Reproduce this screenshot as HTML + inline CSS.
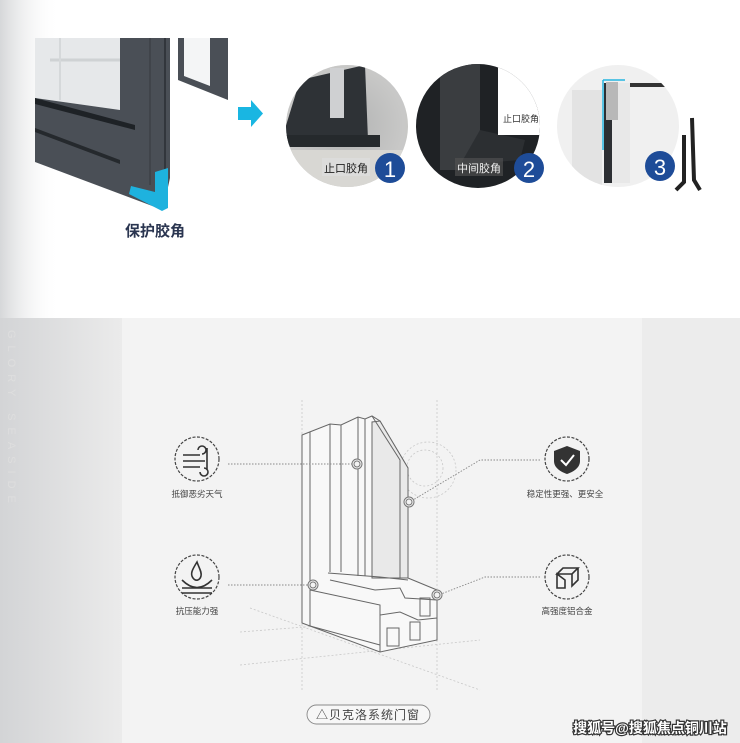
<!DOCTYPE html>
<html><head><meta charset="utf-8"><style>
html,body{margin:0;padding:0;background:#fff}
#w{position:relative;width:740px;height:743px;overflow:hidden;font-family:"Liberation Sans","Noto Sans CJK SC",sans-serif}
</style></head><body><div id="w">
<svg width="740" height="743" viewBox="0 0 740 743" xmlns="http://www.w3.org/2000/svg" style="position:absolute;left:0;top:0">
<defs>
<linearGradient id="lg" x1="0" x2="1" y1="0" y2="0"><stop offset="0" stop-color="#d6d7d9"/><stop offset="1" stop-color="#fff" stop-opacity="0"/></linearGradient>
<linearGradient id="lg2" x1="0" x2="1"><stop offset="0" stop-color="#d3d4d6"/><stop offset="1" stop-color="#ebebeb"/></linearGradient>
<radialGradient id="p1" cx="0.5" cy="0.5" r="0.5"><stop offset="0" stop-color="#9a9c9e"/><stop offset="1" stop-color="#c9c9c9"/></radialGradient>
<clipPath id="c1"><circle cx="347" cy="126" r="61"/></clipPath>
<clipPath id="c2"><circle cx="478" cy="126" r="62"/></clipPath>
<clipPath id="c3"><circle cx="618" cy="126" r="61"/></clipPath>
</defs>
<rect x="0" y="0" width="740" height="318" fill="#fff"/>
<rect x="0" y="0" width="60" height="318" fill="url(#lg)"/>
<!-- bottom section -->
<rect x="0" y="318" width="740" height="425" fill="#ececec"/>
<rect x="0" y="318" width="122" height="425" fill="url(#lg2)"/>
<rect x="122" y="318" width="520" height="425" fill="#f3f3f3"/>
<text x="8" y="330" fill="#dedede" font-size="11" letter-spacing="7" transform="rotate(90 8 330)">GLORY SEASIDE</text>

<!-- window top-left -->
<polygon points="35,38 120,38 120,110 35,98" fill="#e6e8ea"/>
<line x1="50" y1="60" x2="120" y2="60" stroke="#cfd2d4" stroke-width="3"/>
<line x1="60" y1="38" x2="60" y2="100" stroke="#d5d8da" stroke-width="2"/>
<polygon points="35,98 120,110 120,38 170,38 170,178 163,210 35,162" fill="#4a4f56"/>
<polygon points="35,98 135,125 135,130 35,104" fill="#1e2226"/>
<polygon points="35,128 120,160 120,164 35,132" fill="#25292d"/>
<line x1="150" y1="38" x2="150" y2="185" stroke="#3c4046" stroke-width="1.5"/>
<line x1="165" y1="38" x2="165" y2="190" stroke="#2a2e33" stroke-width="1.5"/>
<polygon points="178,38 228,38 228,100 178,80" fill="#4a4f56"/>
<polygon points="184,38 210,38 210,86 184,76" fill="#f4f5f6"/>
<polygon points="155,172 168,168 168,208 162,211 129,194 131,186 155,192" fill="#1eb2de"/>
<!-- arrow -->
<rect x="238" y="107" width="14" height="13" fill="#19b6e2"/>
<polygon points="251,100 263,113.5 251,127" fill="#19b6e2"/>
<text x="155" y="236" text-anchor="middle" font-size="15" fill="#2a3550" font-weight="bold">保护胶角</text>

<!-- photo circles -->
<g clip-path="url(#c1)">
<rect x="280" y="60" width="140" height="130" fill="#c8c8c6"/>
<rect x="285" y="65" width="120" height="120" fill="url(#p1)" opacity="0.5"/>
<polygon points="300,80 365,65 368,140 280,145" fill="#2e3236"/>
<rect x="330" y="68" width="14" height="50" fill="#cfd0d2"/>
<rect x="280" y="135" width="100" height="12" fill="#25292c"/>
<rect x="280" y="150" width="130" height="40" fill="#d8d7d3"/>
</g>
<g clip-path="url(#c2)">
<rect x="410" y="60" width="140" height="130" fill="#1f2225"/>
<rect x="440" y="60" width="40" height="110" fill="#3a3d40"/>
<polygon points="480,130 525,140 520,160 460,165" fill="#2c2f32"/>
<rect x="498" y="60" width="60" height="75" fill="#fff"/>
</g>
<text x="503" y="122" font-size="9" fill="#333">止口胶角</text>
<g clip-path="url(#c3)">
<rect x="555" y="60" width="130" height="130" fill="#f0f0f0"/>
<rect x="572" y="90" width="30" height="100" fill="#e3e3e3"/>
<rect x="604" y="83" width="8" height="100" fill="#2c2f33"/>
<rect x="612" y="83" width="18" height="100" fill="#e8e8e8"/>
<rect x="630" y="83" width="40" height="4" fill="#333"/>
<line x1="603" y1="80" x2="603" y2="150" stroke="#25b5e0" stroke-width="1.5"/>
<line x1="603" y1="80" x2="625" y2="80" stroke="#25b5e0" stroke-width="1.5"/>
<rect x="606" y="82" width="12" height="38" fill="#b8b8b8"/>
</g>
<path d="M692,118 L694,180 L700,190" stroke="#222" stroke-width="4" fill="none"/>
<path d="M684,135 L684,182 L676,190" stroke="#222" stroke-width="4" fill="none"/>
<rect x="322" y="158" width="48" height="18" fill="#ddd" opacity="0.8"/>
<text x="346" y="172" text-anchor="middle" font-size="11" fill="#222">止口胶角</text>
<rect x="455" y="158" width="48" height="18" fill="#555" opacity="0.6"/>
<text x="479" y="172" text-anchor="middle" font-size="11" fill="#eee">中间胶角</text>
<circle cx="390" cy="168" r="15" fill="#1e4c98"/><text x="390" y="177" text-anchor="middle" font-size="22" fill="#fff">1</text>
<circle cx="529" cy="168" r="15" fill="#1e4c98"/><text x="529" y="177" text-anchor="middle" font-size="22" fill="#fff">2</text>
<circle cx="660" cy="166" r="15" fill="#1e4c98"/><text x="660" y="175" text-anchor="middle" font-size="22" fill="#fff">3</text>

<!-- dashed guide lines -->
<g stroke="#c8c8c8" stroke-width="0.8" stroke-dasharray="2,2" fill="none">
<line x1="302" y1="400" x2="302" y2="690"/>
<line x1="437" y1="400" x2="437" y2="690"/>
<line x1="250" y1="608" x2="480" y2="690"/>
<line x1="240" y1="665" x2="480" y2="640"/>
<line x1="240" y1="632" x2="330" y2="625"/>
<circle cx="428" cy="470" r="28"/>
<circle cx="425" cy="468" r="18"/>
</g>
<!-- window profile -->
<g stroke="#666" stroke-width="1" fill="none">
<polygon points="302,435 330,424 341,425 358,417 365,419 372,416 380,421 408,468 408,578 437,590 437,640 380,652 302,623" fill="#f8f8f8"/>
<polygon points="380,421 408,468 408,578 372,578 372,422" fill="#e9e9e9"/>
<line x1="310" y1="432" x2="310" y2="626"/>
<line x1="330" y1="424" x2="330" y2="572"/>
<line x1="341" y1="425" x2="341" y2="572"/>
<line x1="358" y1="417" x2="358" y2="576"/>
<line x1="365" y1="419" x2="365" y2="576"/>
<line x1="372" y1="422" x2="372" y2="577"/>
<polyline points="372,416 400,460 400,578"/>
<polyline points="328,573 380,577 408,580"/>
<polyline points="310,590 380,605 380,652"/>
<polyline points="330,580 375,590 400,588 405,598 437,600"/>
<polyline points="380,615 400,612 418,620 437,618"/>
<rect x="387" y="628" width="12" height="18"/>
<rect x="410" y="622" width="10" height="18"/>
<rect x="420" y="598" width="10" height="18"/>
<line x1="310" y1="626" x2="380" y2="645"/>
</g>
<!-- leader lines -->
<g stroke="#888" stroke-width="0.9" stroke-dasharray="1.5,1.5" fill="none">
<line x1="228" y1="464" x2="353" y2="464"/>
<line x1="228" y1="585" x2="309" y2="585"/>
<polyline points="540,460 480,460 413,500"/>
<polyline points="540,577 485,577 441,594"/>
</g>
<g stroke="#777" stroke-width="1" fill="#f3f3f3">
<circle cx="357" cy="464" r="5"/><circle cx="357" cy="464" r="3"/>
<circle cx="313" cy="585" r="5"/><circle cx="313" cy="585" r="3"/>
<circle cx="409" cy="502" r="5"/><circle cx="409" cy="502" r="3"/>
<circle cx="437" cy="595" r="5"/><circle cx="437" cy="595" r="3"/>
</g>
<!-- icons -->
<g stroke="#444" stroke-width="1.2" fill="none" stroke-dasharray="3,1.5">
<circle cx="197" cy="459" r="22"/><circle cx="197" cy="577" r="22"/>
<circle cx="567" cy="459" r="22"/><circle cx="567" cy="577" r="22"/>
</g>
<g stroke="#333" stroke-width="1.6" fill="none">
<path d="M183,455 H200 M183,461 H205 M183,467 H200 M198,450 a4,4 0 1 1 4,4 M200,472 a4,4 0 1 0 4,-4 M207,448 V470"/>
<path d="M197,562 C192,570 190,574 193,578 C196,582 200,580 201,576 C202,572 199,568 197,562 Z"/>
<path d="M182,580 Q197,595 212,580"/>
<path d="M182,588 H212 M182,593 H212"/>
<path d="M557,574 V588 H565 V580 Z M557,574 L563,568 H578 L572,574 Z M572,574 V586 L578,580 V568"/>
</g>
<path d="M567,446 L580,451 V461 C580,468 573,472 567,474 C561,472 554,468 554,461 V451 Z" fill="#333"/>
<path d="M561,460 L566,465 L574,455" stroke="#fff" stroke-width="2" fill="none"/>
<g font-size="8.5" fill="#444" text-anchor="middle">
<text x="197" y="497">抵御恶劣天气</text>
<text x="197" y="614">抗压能力强</text>
<text x="565" y="497">稳定性更强、更安全</text>
<text x="567" y="614">高强度铝合金</text>
</g>
<rect x="307" y="705" width="123" height="19" rx="9.5" fill="#f7f7f7" stroke="#888" stroke-width="0.9"/>
<text x="368" y="719" text-anchor="middle" font-size="12" fill="#444" letter-spacing="1">△贝克洛系统门窗</text>
<text x="650" y="733" text-anchor="middle" font-size="14" fill="#fff" stroke="#333" stroke-width="2.4" paint-order="stroke" font-weight="bold">搜狐号@搜狐焦点铜川站</text>
</svg>
</div></body></html>
